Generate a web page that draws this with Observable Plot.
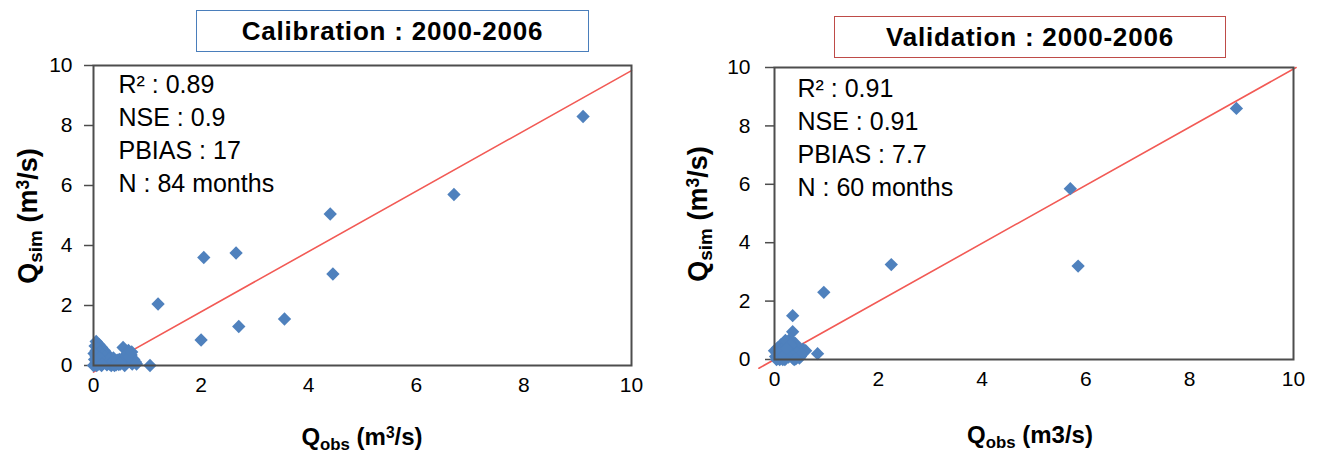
<!DOCTYPE html>
<html>
<head>
<meta charset="utf-8">
<script src="https://cdn.jsdelivr.net/npm/d3@7"></script>
<script src="https://cdn.jsdelivr.net/npm/@observablehq/plot@0.6"></script>
<style>
  html, body { margin: 0; padding: 0; background: #fff; }
  #wrap { position: relative; width: 1320px; height: 467px; overflow: hidden; font-family: "Liberation Sans", Arial, sans-serif; }
  .panel { position: absolute; top: 0; }
  .tbox { position: absolute; box-sizing: border-box; background: #fff; font-weight: bold; font-size: 26px; letter-spacing: 0.8px; display: flex; align-items: center; justify-content: center; color: #000; }
  .xlab, .ylab { position: absolute; font-weight: bold; white-space: nowrap; color: #000; }
  .xlab { font-size: 24px; transform: translate(-50%, -50%); }
  .ylab { font-size: 27px; transform-origin: center center; transform: translate(-50%, -50%) rotate(-90deg); }
  .xlab sub, .ylab sub { font-size: 0.7em; vertical-align: -0.25em; }
  .xlab sup, .ylab sup { font-size: 0.65em; vertical-align: 0.45em; }
</style>
</head>
<body>
<div id="wrap"></div>
<script>
// ---------- data ----------
const panelTitles = ["Calibration : 2000-2006", "Validation : 2000-2006"];
const calStats = ["R² : 0.89", "NSE : 0.9", "PBIAS : 17", "N : 84 months"];
const valStats = ["R² : 0.91", "NSE : 0.91", "PBIAS : 7.7", "N : 60 months"];
const xTicks = [0, 2, 4, 6, 8, 10];
const yTicks = [0, 2, 4, 6, 8, 10];

// Calibration: observed vs simulated monthly flow (m3/s)
const calObs = [9.1, 6.7, 4.4, 4.45, 2.65, 2.05, 2.7, 3.55, 2.0, 1.2, 1.05,
  0.05, 0.1, 0.15, 0.05, 0.2, 0.1, 0.25, 0.3, 0.15, 0.35, 0.4, 0.05, 0.1, 0.2,
  0.3, 0.45, 0.5, 0.55, 0.65, 0.7, 0.6, 0.75, 0.7, 0.8, 0.02, 0.0, 0.08, 0.12,
  0.18, 0.22, 0.28, 0.33, 0.38, 0.42, 0.48, 0.52, 0.58, 0.62, 0.68, 0.25, 0.15,
  0.05, 0.03, 0.07, 0.12, 0.02, 0.17, 0.22, 0.27, 0.32, 0.37, 0.43, 0.47, 0.53,
  0.57, 0.63, 0.72, 0.78, 0.09, 0.14, 0.19, 0.24, 0.29, 0.34, 0.39, 0.44, 0.49,
  0.01, 0.06, 0.11, 0.16, 0.66, 0.71];
const calSim = [8.3, 5.7, 5.05, 3.05, 3.75, 3.6, 1.3, 1.55, 0.85, 2.05, 0.0,
  0.8, 0.7, 0.6, 0.5, 0.5, 0.4, 0.35, 0.3, 0.25, 0.2, 0.15, 0.1, 0.05, 0.1,
  0.05, 0.1, 0.05, 0.6, 0.5, 0.35, 0.25, 0.2, 0.1, 0.05, 0.02, 0.0, 0.15, 0.3,
  0.45, 0.2, 0.15, 0.0, 0.05, 0.02, 0.2, 0.12, 0.0, 0.08, 0.15, 0.02, 0.0,
  0.3, 0.65, 0.55, 0.45, 0.2, 0.35, 0.28, 0.1, 0.12, 0.25, 0.08, 0.03, 0.18,
  0.3, 0.4, 0.05, 0.12, 0.22, 0.15, 0.08, 0.06, 0.2, 0.1, 0.0, 0.18, 0.07,
  0.4, 0.0, 0.25, 0.05, 0.28, 0.45];

// Validation
const valObs = [8.9, 5.7, 5.85, 2.25, 0.95, 0.35, 0.35, 0.83,
  0.0, 0.05, 0.1, 0.15, 0.2, 0.25, 0.3, 0.35, 0.4, 0.45, 0.5, 0.55, 0.3,
  0.2, 0.1, 0.25, 0.35, 0.4, 0.45, 0.15, 0.05, 0.2, 0.3, 0.5, 0.6, 0.12,
  0.18, 0.22, 0.28, 0.32, 0.38, 0.42, 0.48, 0.08, 0.02, 0.26, 0.36, 0.16,
  0.06, 0.24, 0.44, 0.52, 0.14, 0.34, 0.04, 0.27, 0.21, 0.11, 0.31, 0.41,
  0.17, 0.23];
const valSim = [8.6, 5.85, 3.2, 3.25, 2.3, 1.5, 0.95, 0.2,
  0.3, 0.2, 0.1, 0.4, 0.6, 0.5, 0.7, 0.45, 0.3, 0.2, 0.1, 0.35, 0.2,
  0.0, 0.0, 0.15, 0.05, 0.55, 0.4, 0.25, 0.05, 0.3, 0.35, 0.25, 0.3, 0.5,
  0.1, 0.05, 0.6, 0.15, 0.0, 0.12, 0.05, 0.15, 0.1, 0.25, 0.28, 0.0,
  0.4, 0.45, 0.22, 0.18, 0.35, 0.1, 0.0, 0.08, 0.65, 0.25, 0.5, 0.02,
  0.12, 0.38];

// 1:1 reference lines
const calLineX = [0, 10];
const calLineY = [-0.22, 9.83];
const valLineX = [-0.3, 10.05];
const valLineY = [-0.3, 10];

// ---------- drawing ----------
const blue = "#4F81BD";
const red = "#F25A55";
const frameGray = "#4d4d4d";

function panel(cfg) {
  const pts = cfg.obs.map((o, i) => ({obs: o, sim: cfg.sim[i]}));
  const line = cfg.lx.map((x, i) => ({x, y: cfg.ly[i]}));
  return Plot.plot({
    width: cfg.width,
    height: 467,
    marginLeft: cfg.ml,
    marginRight: cfg.mr,
    marginTop: cfg.mt,
    marginBottom: cfg.mb,
    style: {fontFamily: '"Liberation Sans", Arial, sans-serif', fontSize: "21px", color: "#000", background: "transparent"},
    x: {domain: [0, 10], label: null},
    y: {domain: [0, 10], label: null},
    marks: [
      Plot.axisX({ticks: xTicks, tickSize: 0, tickPadding: cfg.xpad, tickFormat: d => d, fontSize: 21, label: null}),
      Plot.axisY({ticks: yTicks, tickSize: 9, tickPadding: cfg.ypad, tickFormat: d => d, fontSize: 21, stroke: frameGray, strokeWidth: 1.5, label: null}),
      Plot.line(line, {x: "x", y: "y", stroke: red, strokeWidth: 1.6, clip: false}),
      Plot.dot(pts, {x: "obs", y: "sim", symbol: "diamond2", r: 6, fill: blue, stroke: "none"}),
      Plot.frame({stroke: frameGray, strokeWidth: 2}),
      Plot.text([cfg.stats.join("\n")], {frameAnchor: "top-left", dx: cfg.tdx, dy: cfg.tdy, lineAnchor: "top", textAnchor: "start", lineHeight: 1.32, fontSize: 25, fill: "#000"})
    ]
  });
}

const wrap = document.getElementById("wrap");

const left = panel({width: 660, ml: 93, mr: 29, mt: 65, mb: 102, obs: calObs, sim: calSim,
  lx: calLineX, ly: calLineY, stats: calStats, tdx: 25, tdy: 4, xpad: 12, ypad: 12});
const right = panel({width: 660, ml: 114, mr: 27, mt: 67, mb: 108, obs: valObs, sim: valSim,
  lx: valLineX, ly: valLineY, stats: valStats, tdx: 23, tdy: 6, xpad: 12, ypad: 15});

const lp = document.createElement("div"); lp.className = "panel"; lp.style.left = "0px"; lp.appendChild(left); wrap.appendChild(lp);
const rp = document.createElement("div"); rp.className = "panel"; rp.style.left = "660px"; rp.appendChild(right); wrap.appendChild(rp);

function addBox(text, x, y, w, h, color) {
  const d = document.createElement("div");
  d.className = "tbox";
  d.style.left = x + "px"; d.style.top = y + "px"; d.style.width = w + "px"; d.style.height = h + "px";
  d.style.border = "1.5px solid " + color;
  d.textContent = text;
  wrap.appendChild(d);
}
addBox(panelTitles[0], 196, 10, 393, 42, "#4A7EBB");
addBox(panelTitles[1], 834, 16, 392, 42, "#BE4B48");

function addLabel(cls, html, x, y) {
  const d = document.createElement("div");
  d.className = cls;
  d.innerHTML = html;
  d.style.left = x + "px"; d.style.top = y + "px";
  wrap.appendChild(d);
}
addLabel("xlab", "Q<sub>obs</sub> (m<sup>3</sup>/s)", 362, 439);
addLabel("xlab", "Q<sub>obs</sub> (m3/s)", 1030, 437);
addLabel("ylab", "Q<sub>sim</sub> (m<sup>3</sup>/s)", 30, 216);
addLabel("ylab", "Q<sub>sim</sub> (m<sup>3</sup>/s)", 700, 214);
</script>
</body>
</html>
